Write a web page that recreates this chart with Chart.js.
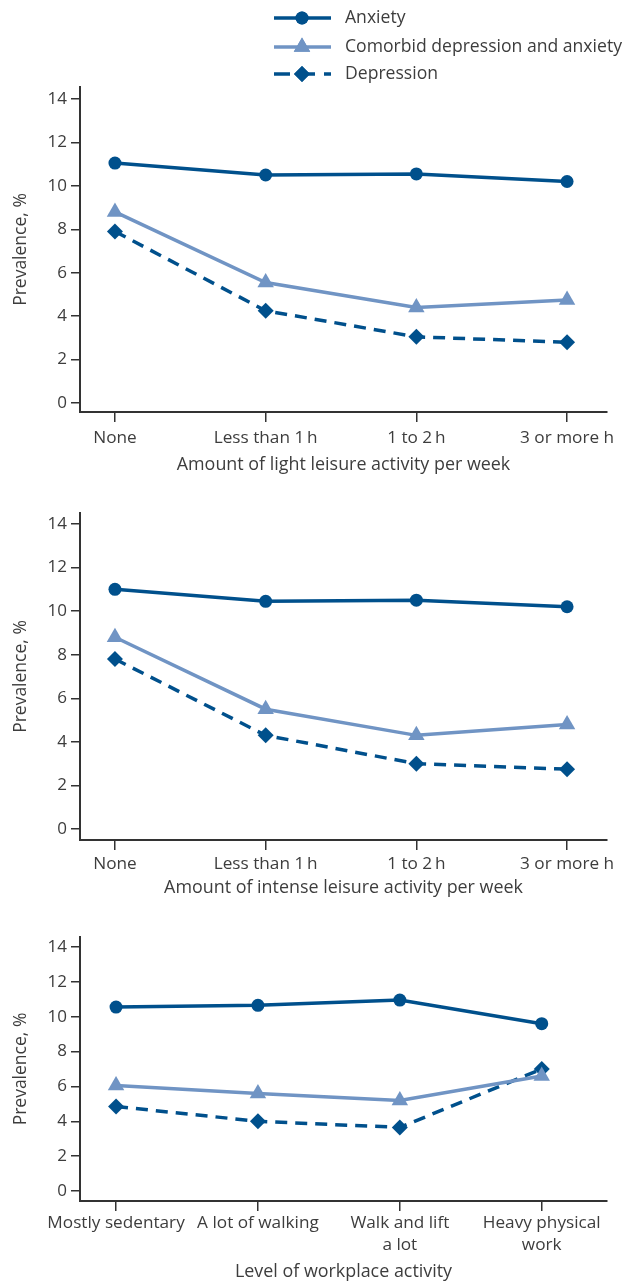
<!DOCTYPE html>
<html>
<head>
<meta charset="utf-8">
<script src="https://cdn.jsdelivr.net/npm/chart.js@4.4.1/dist/chart.umd.min.js"></script>
<style>
  html, body { margin: 0; padding: 0; background: #fff; }
  .wrap { position: relative; width: 623px; }
  #w1 { height: 480px; }
  #w2 { height: 430px; }
  #w3 { height: 373px; }
</style>
</head>
<body>
<div class="wrap" id="w1"><canvas id="c1"></canvas></div>
<div class="wrap" id="w2"><canvas id="c2"></canvas></div>
<div class="wrap" id="w3"><canvas id="c3"></canvas></div>
<script>
// ---- Data ----
const seriesNames = ['Anxiety', 'Comorbid depression and anxiety', 'Depression'];
const hourCategories = ['None', 'Less than 1\u2009h', '1 to 2\u2009h', '3 or more h'];
const workCategories = ['Mostly sedentary', 'A lot of walking', ['Walk and lift', 'a lot'], ['Heavy physical', 'work']];
const yTickValues = [0, 2, 4, 6, 8, 10, 12, 14];

const lightAnxiety    = [11.05, 10.5, 10.55, 10.2];
const lightComorbid   = [8.8, 5.55, 4.4, 4.75];
const lightDepression = [7.9, 4.25, 3.05, 2.8];

const intenseAnxiety    = [11.0, 10.45, 10.5, 10.2];
const intenseComorbid   = [8.8, 5.5, 4.3, 4.8];
const intenseDepression = [7.8, 4.3, 3.0, 2.75];

const workAnxiety    = [10.55, 10.65, 10.95, 9.6];
const workComorbid   = [6.05, 5.6, 5.2, 6.6];
const workDepression = [4.85, 4.0, 3.65, 7.0];

const xTitles = ['Amount of light leisure activity per week', 'Amount of intense leisure activity per week', 'Level of workplace activity'];
const yTitle = 'Prevalence, %';

// ---- Styles ----
const DARK = '#00508c';
const LIGHT = '#7094c4';
const AXIS = '#333333';
const TEXT = '#3d3d3d';
const FONT = "'Open Sans', 'Noto Sans', sans-serif";

function makeDatasets(a, c, d) {
  const pts = arr => arr.map((v, i) => ({ x: i, y: v }));
  return [
    { label: seriesNames[0], data: pts(a), borderColor: DARK, backgroundColor: DARK, borderWidth: 3.5,
      pointStyle: 'circle', pointRadius: 6.5, pointBorderWidth: 0 },
    { label: seriesNames[1], data: pts(c), borderColor: LIGHT, backgroundColor: LIGHT, borderWidth: 3.5,
      pointStyle: 'triangle', pointRadius: 9.5, pointBorderWidth: 0 },
    { label: seriesNames[2], data: pts(d), borderColor: DARK, backgroundColor: DARK, borderWidth: 3.5,
      borderDash: [12, 8], pointStyle: 'rectRot', pointRadius: 8, pointBorderWidth: 0 }
  ];
}

const legendPlugin = {
  id: 'customLegend',
  afterDraw(chart) {
    if (!chart.options.plugins.customLegend || !chart.options.plugins.customLegend.show) return;
    const ctx = chart.ctx;
    const rows = [18, 47, 74];
    const x0 = 274, x1 = 331, mx = 302, tx = 345;
    ctx.save();
    ctx.lineWidth = 3.5;
    rows.forEach((y, i) => {
      const ds = chart.data.datasets[i];
      ctx.strokeStyle = ds.borderColor;
      ctx.fillStyle = ds.backgroundColor;
      ctx.setLineDash(i === 2 ? [16, 9] : []);
      ctx.beginPath();
      ctx.moveTo(x0, y); ctx.lineTo(x1, y); ctx.stroke();
      ctx.setLineDash([]);
      Chart.helpers.drawPoint(ctx, { pointStyle: ds.pointStyle, radius: ds.pointRadius, rotation: 0, borderWidth: 0 }, mx, y);
      ctx.fill();
      ctx.fillStyle = TEXT;
      ctx.font = "17.6px " + FONT;
      ctx.textBaseline = 'middle';
      ctx.textAlign = 'left';
      ctx.fillText(ds.label, tx, y);
    });
    ctx.restore();
  }
};

function makeChart(id, cats, datasets, opts) {
  return new Chart(document.getElementById(id), {
    type: 'line',
    data: { datasets },
    plugins: [legendPlugin],
    options: {
      responsive: true,
      maintainAspectRatio: false,
      animation: false,
      layout: { padding: { top: opts.padTop, right: opts.padRight, left: 0, bottom: 0 } },
      plugins: { legend: { display: false }, tooltip: { enabled: false }, customLegend: { show: opts.legend } },
      scales: {
        x: {
          type: 'linear',
          min: opts.xMin, max: opts.xMax,
          afterBuildTicks: s => { s.ticks = cats.map((_, i) => ({ value: i })); },
          afterFit: s => { s.height = opts.xHeight; },
          ticks: { callback: v => cats[v], color: TEXT, font: { family: FONT, size: 17.2, lineHeight: 1.3 }, padding: opts.tickPad, maxRotation: 0, autoSkip: false },
          grid: { drawOnChartArea: false, drawTicks: true, tickLength: 10, color: AXIS, lineWidth: 1.5 },
          border: { display: true, color: AXIS, width: 2 },
          title: { display: true, text: opts.xTitle, color: TEXT, font: { family: FONT, size: 17.9 }, padding: { top: 4, bottom: opts.titleBottom } }
        },
        y: {
          min: opts.yMin, max: opts.yMax,
          afterBuildTicks: s => { s.ticks = yTickValues.map(v => ({ value: v })); },
          afterFit: s => { s.width = 80; },
          ticks: { color: TEXT, font: { family: FONT, size: 17 }, padding: 4 },
          grid: { drawOnChartArea: false, drawTicks: true, tickLength: 9, color: AXIS, lineWidth: 1.5 },
          border: { display: true, color: AXIS, width: 2 },
          title: { display: true, text: yTitle, color: TEXT, font: { family: FONT, size: 17.5 }, padding: { top: 11, bottom: 6 } }
        }
      }
    }
  });
}

makeChart('c1', hourCategories, makeDatasets(lightAnxiety, lightComorbid, lightDepression),
  { padTop: 87, padRight: 16, xMin: -0.232, xMax: 3.265, yMin: -0.41, yMax: 14.55, xHeight: 68, tickPad: 5, titleBottom: 4, xTitle: xTitles[0], legend: true });
makeChart('c2', hourCategories, makeDatasets(intenseAnxiety, intenseComorbid, intenseDepression),
  { padTop: 33, padRight: 16, xMin: -0.232, xMax: 3.265, yMin: -0.5, yMax: 14.5, xHeight: 70, tickPad: 3, titleBottom: 11, xTitle: xTitles[1], legend: false });
makeChart('c3', workCategories, makeDatasets(workAnxiety, workComorbid, workDepression),
  { padTop: 27, padRight: 16, xMin: -0.254, xMax: 3.46, yMin: -0.57, yMax: 14.57, xHeight: 82, tickPad: 1, titleBottom: 0, xTitle: xTitles[2], legend: false });
</script>
</body>
</html>
